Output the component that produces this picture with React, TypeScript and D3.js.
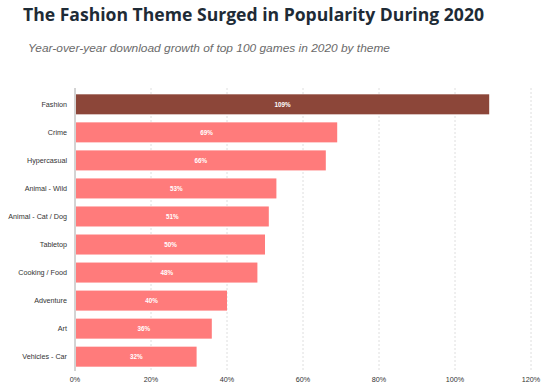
import React from 'react';
import * as d3 from 'd3';

const themes = [
  'Fashion',
  'Crime',
  'Hypercasual',
  'Animal - Wild',
  'Animal - Cat / Dog',
  'Tabletop',
  'Cooking / Food',
  'Adventure',
  'Art',
  'Vehicles - Car',
];
const growth = [109, 69, 66, 53, 51, 50, 48, 40, 36, 32];
const xTicks = [0, 20, 40, 60, 80, 100, 120];
const highlight = 'Fashion';

const W = 556;
const H = 387;

const App = () => {
  const x = d3.scaleLinear().domain([0, 120]).range([75, 531]);
  const y = d3
    .scaleBand<string>()
    .domain(themes)
    .range([90.3, 370.7])
    .paddingInner(0.286)
    .paddingOuter(0.143);

  const rows = themes.map((t, i) => ({ theme: t, value: growth[i] }));

  return (
    <svg
      width={W}
      height={H}
      style={{ position: 'absolute', left: 0, top: 0, background: '#fff' }}
    >
      <text
        x={23}
        y={21}
        fontFamily="'Open Sans', sans-serif"
        fontWeight={700}
        fontSize={18}
        fill="#1e2b36"
        textLength={461}
        lengthAdjust="spacingAndGlyphs"
      >
        The Fashion Theme Surged in Popularity During 2020
      </text>
      <text
        x={28}
        y={52}
        fontFamily="'Liberation Sans', Arial, sans-serif"
        fontStyle="italic"
        fontSize={11.2}
        fill="#6b6b6b"
        textLength={362}
        lengthAdjust="spacingAndGlyphs"
      >
        Year-over-year download growth of top 100 games in 2020 by theme
      </text>

      {/* gridlines */}
      {xTicks.slice(1).map((t) => (
        <line
          key={t}
          x1={x(t)}
          x2={x(t)}
          y1={88}
          y2={371}
          stroke="#d6d6d6"
          strokeWidth={0.8}
          strokeDasharray="2,2"
        />
      ))}
      <line x1={x(0)} x2={x(0)} y1={88} y2={371} stroke="#a8a8a8" strokeWidth={1} />

      {xTicks.map((t) => (
        <text
          key={t}
          x={x(t)}
          y={382}
          textAnchor="middle"
          fontFamily="'Liberation Sans', Arial, sans-serif"
          fontSize={7.2}
          fill="#333"
        >
          {t}%
        </text>
      ))}

      {rows.map((d) => {
        const y0 = y(d.theme) as number;
        const bh = y.bandwidth();
        const x0 = x(0) + 1;
        const x1 = x(d.value);
        return (
          <g key={d.theme}>
            <text
              x={67}
              y={y0 + bh / 2}
              dy="0.35em"
              textAnchor="end"
              fontFamily="'Liberation Sans', Arial, sans-serif"
              fontSize={7.2}
              fill="#333"
            >
              {d.theme}
            </text>
            <rect
              x={x0}
              y={y0}
              width={x1 - x0}
              height={bh}
              fill={d.theme === highlight ? '#8c4639' : '#ff7b7b'}
            />
            <text
              x={(x0 + x1) / 2}
              y={y0 + bh / 2}
              dy="0.35em"
              textAnchor="middle"
              fontFamily="'Liberation Sans', Arial, sans-serif"
              fontSize={6.3}
              fontWeight={700}
              fill="#fff"
            >
              {d.value}%
            </text>
          </g>
        );
      })}
    </svg>
  );
};

export default App;
